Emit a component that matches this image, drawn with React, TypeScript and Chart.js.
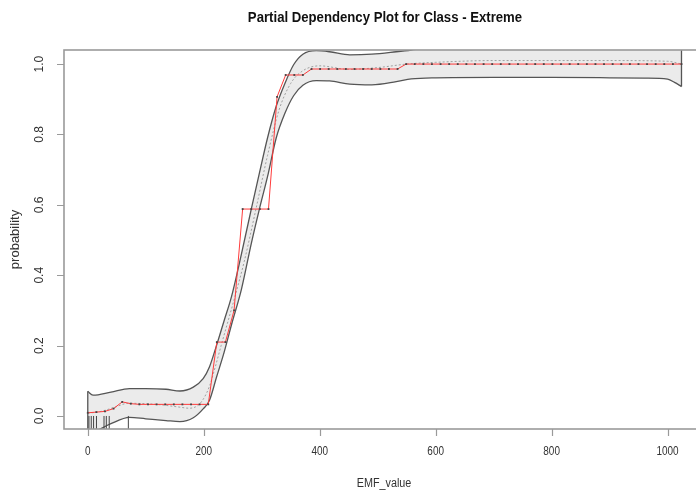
import React, { useEffect, useRef } from "react";
import { Chart, registerables } from "chart.js";

Chart.register(...registerables);

// ---- text ----
const TITLE = "Partial Dependency Plot for Class - Extreme";
const X_TITLE = "EMF_value";
const Y_TITLE = "probability";

// ---- axes ----
const X_MIN = -41;
const X_MAX = 1068;
const Y_MIN = -0.037;
const Y_MAX = 1.04;
const xTicks = [0, 200, 400, 600, 800, 1000];
const xTickLabels = ["0", "200", "400", "600", "800", "1000"];
const yTicks = [0, 0.2, 0.4, 0.6, 0.8, 1.0];
const yTickLabels = ["0.0", "0.2", "0.4", "0.6", "0.8", "1.0"];

// ---- partial dependence (red line with points) ----
const gridX = [
  0, 14.8, 29.7, 44.5, 59.4, 74.2, 89, 103.9, 118.7, 133.6, 148.4, 163.2, 178.1, 192.9,
  207.8, 222.6, 237.4, 252.3, 267.1, 282, 296.8, 311.7, 326.5, 341.3, 356.2, 371, 385.9,
  400.7, 415.5, 430.4, 445.2, 460.1, 474.9, 489.7, 504.6, 519.4, 534.3, 549.1, 563.9,
  578.8, 593.6, 608.5, 623.3, 638.1, 653, 667.8, 682.7, 697.5, 712.3, 727.2, 742, 756.9,
  771.7, 786.5, 801.4, 816.2, 831.1, 845.9, 860.8, 875.6, 890.4, 905.3, 920.1, 935,
  949.8, 964.6, 979.5, 994.3, 1009.2, 1024,
];
const pdValues = [
  0.009, 0.011, 0.013, 0.021, 0.04, 0.035, 0.033, 0.033, 0.033, 0.033, 0.033, 0.033, 0.033,
  0.033, 0.033, 0.21, 0.21, 0.3, 0.588, 0.588, 0.588, 0.588, 0.907, 0.969, 0.969, 0.969,
  0.986, 0.986, 0.986, 0.986, 0.986, 0.986, 0.986, 0.986, 0.986, 0.986, 0.986,
  1.0, 1.0, 1.0, 1.0, 1.0, 1.0, 1.0, 1.0, 1.0, 1.0, 1.0, 1.0, 1.0, 1.0, 1.0, 1.0, 1.0,
  1.0, 1.0, 1.0, 1.0, 1.0, 1.0, 1.0, 1.0, 1.0, 1.0, 1.0, 1.0, 1.0, 1.0, 1.0, 1.0, 1.0,
];

// ---- confidence band ----
const bandX = [
  0, 9, 40, 72, 100, 135, 159, 182, 199, 210, 222, 235, 248, 265, 282, 296, 310, 325, 340,
  355, 371, 394, 417, 452, 490, 532, 558, 600, 700, 800, 900, 960, 1000, 1012, 1024,
];
const bandUpper = [
  0.07, 0.059, 0.068, 0.078, 0.078, 0.076, 0.071, 0.082, 0.106, 0.14, 0.2, 0.27, 0.34,
  0.46, 0.588, 0.69, 0.79, 0.88, 0.945, 0.998, 1.028, 1.038, 1.035, 1.026, 1.028, 1.035,
  1.04, 1.05, 1.06, 1.06, 1.06, 1.06, 1.06, 1.06, 1.06,
];
const bandLower = [
  -0.055, -0.048, -0.022, -0.004, -0.008, -0.013, -0.016, -0.005, 0.02, 0.045, 0.11, 0.18,
  0.26, 0.36, 0.49, 0.588, 0.68, 0.79, 0.86, 0.91, 0.94, 0.953, 0.952, 0.943, 0.941, 0.95,
  0.958, 0.961, 0.962, 0.962, 0.961, 0.96, 0.957, 0.948, 0.936,
];

// ---- smoothed fit (dotted) ----
const fitX = [
  0, 20, 45, 70, 100, 130, 159, 175, 190, 200, 210, 220, 230, 242, 254, 270, 289, 310, 330,
  350, 370, 400, 450, 500, 550, 600, 700, 800, 900, 1000, 1024,
];
const fitY = [
  0.008, 0.012, 0.024, 0.036, 0.035, 0.031, 0.025, 0.022, 0.03, 0.05, 0.085, 0.14, 0.2,
  0.27, 0.34, 0.44, 0.58, 0.74, 0.87, 0.945, 0.98, 0.995, 0.985, 0.99, 1.0, 1.005, 1.01,
  1.01, 1.01, 1.008, 1.0,
];

// ---- rug (observed values) ----
const rugX = [2, 6, 10, 15, 28, 32, 37, 70];
const RUG_TOP = 0.0;

const FONT = '"Liberation Sans", Arial, Helvetica, sans-serif';

function drawText(ctx: CanvasRenderingContext2D, text: string, x: number, y: number, font: string, sx: number, rot = 0) {
  ctx.save();
  ctx.translate(x, y);
  if (rot) ctx.rotate(rot);
  ctx.scale(sx, 1);
  ctx.font = font;
  ctx.fillText(text, 0, 0);
  ctx.restore();
}

const decorPlugin = {
  id: "rDecor",
  afterDraw(chart: any) {
    const { ctx, chartArea, scales } = chart;
    const { left, right, top, bottom } = chartArea;
    const xs = scales.x;
    const ys = scales.y;
    ctx.save();
    // frame
    ctx.strokeStyle = "#9a9a9a";
    ctx.lineWidth = 1.6;
    ctx.strokeRect(left, top, right - left, bottom - top);
    // tick marks
    ctx.beginPath();
    xTicks.forEach((v) => {
      const px = Math.round(xs.getPixelForValue(v)) + 0.5;
      ctx.moveTo(px, bottom);
      ctx.lineTo(px, bottom + 7);
    });
    yTicks.forEach((v) => {
      const py = Math.round(ys.getPixelForValue(v)) + 0.5;
      ctx.moveTo(left, py);
      ctx.lineTo(left - 7, py);
    });
    ctx.lineWidth = 1.2;
    ctx.stroke();
    // tick labels
    ctx.fillStyle = "#333";
    ctx.textAlign = "center";
    ctx.textBaseline = "middle";
    xTicks.forEach((v, i) => {
      drawText(ctx, xTickLabels[i], xs.getPixelForValue(v), bottom + 23, `12px ${FONT}`, 0.83);
    });
    yTicks.forEach((v, i) => {
      drawText(ctx, yTickLabels[i], left - 24, ys.getPixelForValue(v), `12px ${FONT}`, 1, -Math.PI / 2);
    });
    // axis titles
    drawText(ctx, X_TITLE, 384, bottom + 55, `12px ${FONT}`, 0.9);
    drawText(ctx, Y_TITLE, 15, (top + bottom) / 2, `13px ${FONT}`, 1, -Math.PI / 2);
    // main title
    ctx.fillStyle = "#111";
    drawText(ctx, TITLE, 385, 18, `bold 14px ${FONT}`, 0.94);
    ctx.restore();
  },
};

export default function App() {
  const ref = useRef<HTMLCanvasElement | null>(null);

  useEffect(() => {
    if (!ref.current) return;

    const upperData = bandX.map((x, i) => ({ x, y: bandUpper[i] }));
    const lowerData = bandX.map((x, i) => ({ x, y: bandLower[i] }));
    const last = bandX.length - 1;
    const edgeData: { x: number; y: number | null }[] = [
      { x: bandX[0], y: bandLower[0] },
      { x: bandX[0], y: bandUpper[0] },
      { x: bandX[0], y: null },
      { x: bandX[last], y: bandLower[last] },
      { x: bandX[last], y: bandUpper[last] },
    ];
    const pdData = gridX.map((x, i) => ({ x, y: pdValues[i] }));
    const fitData = fitX.map((x, i) => ({ x, y: fitY[i] }));
    const rugData: { x: number; y: number | null }[] = [];
    rugX.forEach((x) => {
      rugData.push({ x, y: Y_MIN });
      rugData.push({ x, y: RUG_TOP });
      rugData.push({ x, y: null });
    });

    const chart = new Chart(ref.current, {
      type: "line",
      data: {
        datasets: [
          {
            label: "partial dependence",
            data: pdData,
            borderColor: "#ff3b3b",
            borderWidth: 1,
            pointRadius: 1.3,
            pointStyle: "rect",
            pointBackgroundColor: "#444",
            pointBorderWidth: 0,
            tension: 0,
            fill: false,
            order: 1,
          },
          {
            label: "rug",
            data: rugData as any,
            borderColor: "#444",
            borderWidth: 1,
            pointRadius: 0,
            spanGaps: false,
            fill: false,
            order: 2,
          },
          {
            label: "fit",
            data: fitData,
            borderColor: "#a0a0a0",
            borderWidth: 1,
            borderDash: [2, 2],
            pointRadius: 0,
            cubicInterpolationMode: "monotone",
            fill: false,
            order: 3,
          },
          {
            label: "band upper",
            data: upperData,
            borderColor: "#555",
            borderWidth: 1.3,
            pointRadius: 0,
            cubicInterpolationMode: "monotone",
            fill: false,
            order: 5,
          },
          {
            label: "band lower",
            data: lowerData,
            borderColor: "#555",
            borderWidth: 1.3,
            backgroundColor: "#ebebeb",
            pointRadius: 0,
            cubicInterpolationMode: "monotone",
            fill: 3,
            order: 6,
          },
          {
            label: "band edges",
            data: edgeData as any,
            borderColor: "#555",
            borderWidth: 1.3,
            pointRadius: 0,
            spanGaps: false,
            fill: false,
            order: 4,
          },
        ],
      },
      options: {
        animation: false,
        responsive: false,
        devicePixelRatio: 1,
        events: [],
        layout: { padding: { left: 64, top: 50, right: 13, bottom: 67 } },
        plugins: {
          legend: { display: false },
          tooltip: { enabled: false },
          title: { display: false },
        },
        scales: {
          x: { type: "linear", min: X_MIN, max: X_MAX, display: false },
          y: { type: "linear", min: Y_MIN, max: Y_MAX, display: false },
        },
      },
      plugins: [decorPlugin],
    });
    return () => chart.destroy();
  }, []);

  return (
    <div
      style={{
        position: "absolute",
        left: 0,
        top: 0,
        width: 696,
        height: 496,
        overflow: "hidden",
        background: "#fff",
      }}
    >
      <canvas ref={ref} width={720} height={496} style={{ display: "block" }} />
    </div>
  );
}
